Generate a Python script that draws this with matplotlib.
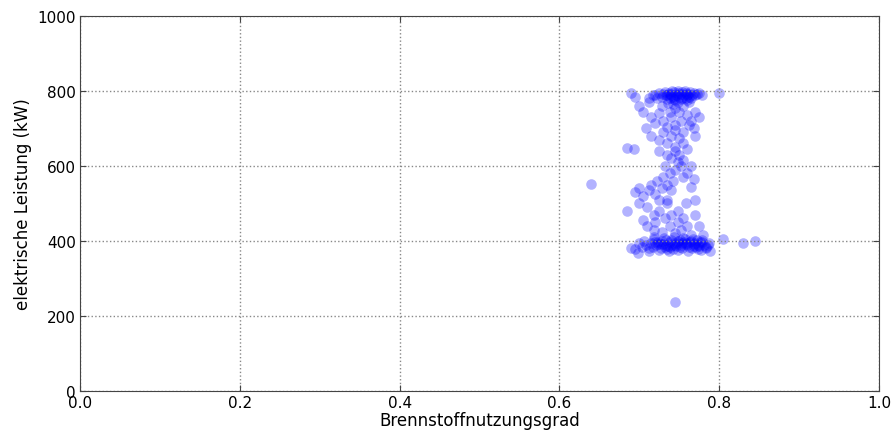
import numpy as np
import matplotlib
matplotlib.use('Agg')
import matplotlib.pyplot as plt

# Brennstoffnutzungsgrad / elektrische Leistung (kW)
top_x = [0.720, 0.725, 0.728, 0.730, 0.732, 0.735, 0.737, 0.740, 0.742, 0.744, 0.746, 0.748,
         0.750, 0.752, 0.754, 0.756, 0.758, 0.760, 0.762, 0.764, 0.766, 0.768, 0.770, 0.772,
         0.775, 0.778, 0.722, 0.735, 0.745, 0.752, 0.760, 0.748, 0.742, 0.755, 0.738, 0.758,
         0.765, 0.733, 0.741, 0.749, 0.757, 0.717, 0.712, 0.745, 0.750, 0.762, 0.739, 0.747,
         0.753, 0.761, 0.743, 0.736]
top_y = [790, 795, 785, 792, 798, 788, 795, 790, 785, 797, 790, 795,
         785, 792, 798, 788, 795, 790, 785, 797, 790, 795, 788, 792,
         795, 790, 780, 778, 775, 778, 775, 770, 765, 760, 782, 782,
         780, 790, 800, 800, 800, 788, 782, 755, 745, 770, 792, 788,
         782, 793, 778, 768]

upper_x = [0.700, 0.705, 0.715, 0.720, 0.725, 0.730, 0.735, 0.740, 0.745, 0.760, 0.765, 0.770,
           0.775, 0.768, 0.755, 0.750, 0.740, 0.730, 0.725, 0.735, 0.745, 0.755, 0.760, 0.770,
           0.715, 0.708, 0.745, 0.762, 0.752, 0.738, 0.728, 0.712]
upper_y = [760, 745, 730, 715, 740, 720, 705, 730, 710, 735, 720, 745,
           730, 700, 690, 675, 680, 690, 670, 660, 650, 660, 645, 680,
           680, 700, 695, 710, 720, 745, 760, 770]

mid_x = [0.685, 0.693, 0.640, 0.725, 0.735, 0.740, 0.748, 0.752, 0.745, 0.738, 0.730, 0.722,
         0.715, 0.712, 0.720, 0.728, 0.735, 0.742, 0.755, 0.760, 0.768, 0.765, 0.700, 0.705,
         0.695, 0.750, 0.755, 0.745, 0.732, 0.765, 0.740, 0.725, 0.735]
mid_y = [648, 645, 552, 640, 630, 620, 610, 600, 590, 580, 570, 560,
         550, 535, 525, 540, 550, 560, 570, 580, 565, 545, 540, 520,
         530, 630, 615, 640, 600, 600, 535, 510, 500]

lower_x = [0.685, 0.700, 0.710, 0.718, 0.725, 0.732, 0.740, 0.748, 0.755, 0.760, 0.770, 0.775,
           0.710, 0.718, 0.728, 0.738, 0.745, 0.752, 0.765, 0.705, 0.735, 0.758, 0.770, 0.720,
           0.748, 0.780]
lower_y = [480, 500, 490, 470, 480, 460, 470, 480, 460, 440, 470, 440,
           440, 430, 425, 440, 420, 430, 415, 455, 510, 500, 510, 450,
           450, 415]

band_x = [0.700, 0.703, 0.706, 0.709, 0.712, 0.715, 0.718, 0.721, 0.724, 0.727, 0.730, 0.733,
          0.736, 0.739, 0.742, 0.745, 0.748, 0.751, 0.754, 0.757, 0.760, 0.763, 0.766, 0.769,
          0.772, 0.775, 0.778, 0.781, 0.784, 0.787, 0.717, 0.723, 0.729, 0.735, 0.741, 0.747,
          0.753, 0.759, 0.765, 0.771, 0.777, 0.783, 0.725, 0.737, 0.749, 0.761, 0.773, 0.719,
          0.731, 0.743, 0.755, 0.767, 0.779, 0.788, 0.695, 0.690, 0.698, 0.712, 0.744, 0.758,
          0.762, 0.739, 0.751, 0.733, 0.727, 0.770, 0.774, 0.786, 0.720, 0.732, 0.746, 0.756,
          0.768, 0.776, 0.740, 0.752]
band_y = [395, 385, 400, 390, 380, 395, 405, 388, 398, 380, 392, 402,
          386, 396, 378, 390, 400, 384, 394, 404, 388, 398, 380, 392,
          402, 386, 396, 390, 384, 394, 385, 392, 400, 378, 388, 395,
          380, 392, 400, 385, 375, 380, 375, 372, 375, 372, 378, 410,
          408, 410, 408, 406, 402, 372, 378, 382, 368, 372, 395, 395,
          385, 383, 402, 390, 393, 395, 390, 388, 398, 384, 386, 398,
          386, 398, 402, 390]

out_x = [0.745, 0.805, 0.830, 0.845, 0.800, 0.690, 0.695]
out_y = [237, 405, 395, 400, 795, 795, 785]

x = np.array(top_x + upper_x + mid_x + lower_x + band_x + out_x)
y = np.array(top_y + upper_y + mid_y + lower_y + band_y + out_y)

fig = plt.figure(figsize=(8.92, 4.35), dpi=100)
ax = fig.add_axes([0.0897, 0.099, 0.8957, 0.862])
ax.scatter(x, y, s=58, c='blue', alpha=0.3, linewidths=0)
ax.set_xlim(0, 1)
ax.set_ylim(0, 1000)
ax.set_xticks([0.0, 0.2, 0.4, 0.6, 0.8, 1.0])
ax.set_yticks([0, 200, 400, 600, 800, 1000])
ax.grid(True, color='#888888', linestyle=':', linewidth=1)
ax.tick_params(direction='in', top=True, right=True, labelsize=11, length=4,
               color='#444444', pad=3)
for s in ax.spines.values():
    s.set_color('#444444')
ax.set_xlabel('Brennstoffnutzungsgrad', fontsize=12, labelpad=1)
ax.set_ylabel('elektrische Leistung (kW)', fontsize=12, labelpad=4)
fig.savefig('out.png', dpi=100)
